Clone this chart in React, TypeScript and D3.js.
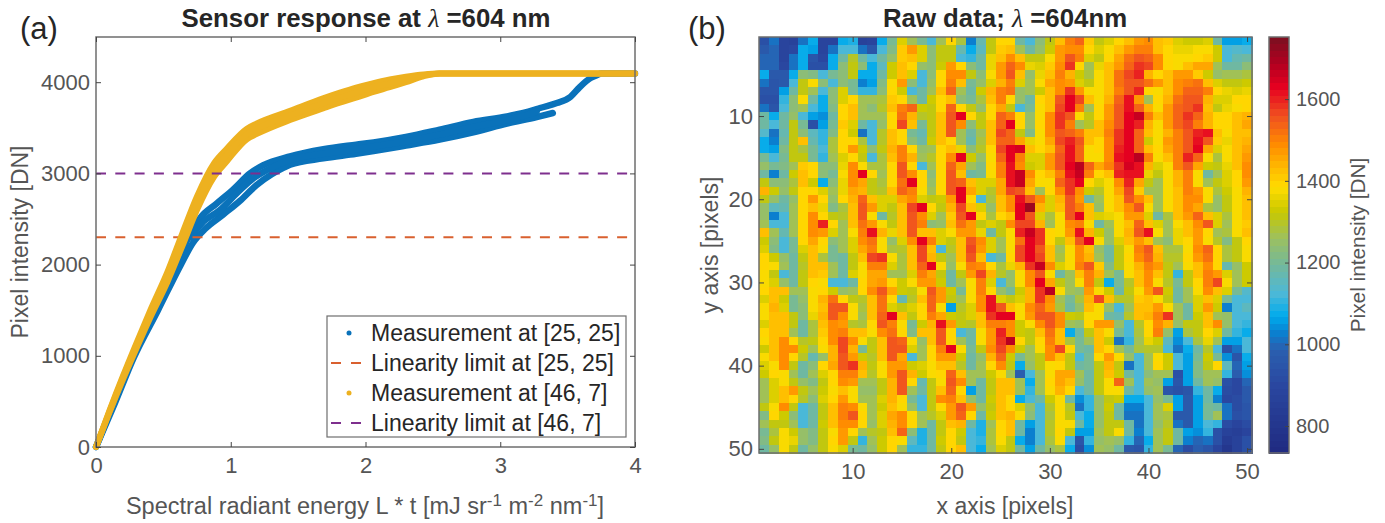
import React, { useRef, useEffect } from "react";
import * as d3 from "d3";

const blueUpperEnergy = [0, 0.14, 0.27, 0.44, 0.6, 0.7, 0.772, 0.896, 1.019, 1.143, 1.242, 1.44, 1.687, 1.93, 2.06, 2.3, 2.55, 2.8, 3.05, 3.24, 3.295, 3.42, 3.52, 3.59, 3.67, 3.72, 3.75, 4];
const blueUpperDn = [0, 510, 1000, 1500, 2000, 2340, 2510, 2670, 2825, 3000, 3090, 3187, 3265, 3315, 3340, 3400, 3480, 3565, 3625, 3690, 3717, 3772, 3838, 3947, 4046, 4079, 4095, 4095];
const blueMiddleEnergy = [0.7, 0.784, 0.92, 1.044, 1.167, 1.267, 1.44, 1.687, 1.93, 2.06, 2.3, 2.55, 2.8, 3.05, 3.24, 3.27];
const blueMiddleDn = [2300, 2452, 2599, 2781, 2946, 3037, 3147, 3215, 3265, 3295, 3350, 3425, 3509, 3585, 3662, 3680];
const blueLowerEnergy = [0, 0.14, 0.28, 0.46, 0.63, 0.72, 0.809, 0.945, 1.069, 1.19, 1.304, 1.39, 1.44, 1.687, 1.93, 2.06, 2.3, 2.55, 2.8, 3.05, 3.27, 3.39];
const blueLowerDn = [0, 480, 980, 1500, 2000, 2240, 2390, 2550, 2700, 2870, 2990, 3060, 3095, 3165, 3215, 3245, 3305, 3370, 3450, 3545, 3618, 3662];

// measurement runs at pixel [46, 7]
const yellowEnergy = [0, 0.1, 0.2, 0.3, 0.4, 0.53, 0.64, 0.75, 0.875, 0.97, 1.12, 1.19, 1.44, 1.69, 1.81, 1.93, 2.06, 2.18, 2.3, 2.43, 2.55, 3, 3.5, 4];
const yellowHighDn = [0, 400, 780, 1140, 1490, 1920, 2340, 2750, 3110, 3270, 3490, 3545, 3685, 3825, 3885, 3940, 3990, 4030, 4060, 4085, 4095, 4095, 4095, 4095];
const yellowMiddleDn = [0, 390, 760, 1110, 1450, 1864, 2270, 2675, 3037, 3202, 3430, 3487, 3635, 3770, 3830, 3885, 3945, 3985, 4030, 4075, 4095, 4095, 4095, 4095];
const yellowLowDn = [0, 380, 740, 1080, 1410, 1810, 2200, 2600, 2960, 3130, 3375, 3430, 3585, 3715, 3775, 3830, 3895, 3945, 4000, 4065, 4095, 4095, 4095, 4095];

const limitBlue = 2300;
const limitYellow = 3000;

const legendLabels = ["Measurement at [25, 25]", "Linearity limit at [25, 25]", "Measurement at [46, 7]", "Linearity limit at [46, 7]"];
const xTicksA = [0, 1, 2, 3, 4];
const yTicksA = [0, 1000, 2000, 3000, 4000];
const pixelTicks = [10, 20, 30, 40, 50];
const barTicks = [800, 1000, 1200, 1400, 1600];

// raw frame, one row per y pixel
const rawRows = [
  [930,1010,880,870,1020,1070,880,880,1080,1090,870,880,1070,1210,1340,1260,1200,1120,1260,1390,1290,1030,1170,1310,1390,1400,1190,1120,1230,1320,1430,1500,1540,1410,1320,1350,1390,1420,1470,1490,1430,1410,1340,1330,1330,1340,1190,1060,1060,1070],
  [960,1000,890,900,1070,1060,890,1010,1120,1120,1010,950,1120,1220,1410,1480,1340,1240,1320,1320,1170,1070,1160,1310,1410,1420,1260,1180,1250,1330,1480,1490,1490,1400,1340,1380,1420,1480,1500,1510,1430,1400,1370,1370,1385,1380,1330,1130,1140,1120],
  [1000,1000,880,1010,1070,950,900,1070,1180,1300,1190,1120,1180,1250,1410,1420,1340,1240,1320,1320,1130,1100,1180,1370,1420,1490,1420,1320,1310,1380,1480,1560,1500,1340,1320,1390,1460,1520,1550,1540,1490,1390,1385,1385,1400,1410,1330,1120,1170,1190],
  [1000,1000,900,1020,1070,940,940,1070,1240,1320,1240,1070,1150,1330,1420,1390,1250,1230,1330,1470,1390,1240,1190,1360,1480,1530,1490,1370,1340,1410,1490,1580,1390,1260,1370,1420,1480,1530,1590,1570,1490,1390,1385,1430,1450,1450,1270,1180,1190,1230],
  [1070,960,960,1070,1240,1220,1130,1200,1240,1310,1070,1070,1180,1330,1420,1340,1120,1240,1390,1490,1490,1320,1240,1385,1480,1560,1430,1250,1370,1430,1510,1440,1330,1280,1385,1420,1520,1570,1600,1440,1390,1420,1480,1480,1410,1330,1250,1260,1270,1280],
  [1020,950,960,1130,1320,1380,1230,1130,1240,1210,1030,1060,1220,1385,1470,1230,1130,1250,1390,1510,1420,1200,1250,1340,1440,1510,1340,1260,1380,1460,1490,1470,1340,1310,1385,1420,1520,1560,1550,1520,1470,1420,1490,1510,1520,1430,1340,1320,1320,1330],
  [950,950,1060,1190,1320,1260,1130,1230,1340,1200,1110,1110,1240,1400,1330,1120,1180,1270,1420,1530,1270,1180,1330,1440,1500,1520,1250,1260,1330,1420,1490,1580,1480,1385,1385,1420,1510,1560,1600,1390,1385,1430,1490,1530,1540,1510,1390,1360,1350,1360],
  [930,930,1100,1240,1385,1190,1070,1240,1340,1390,1270,1260,1280,1410,1390,1270,1190,1330,1400,1420,1240,1200,1290,1430,1500,1400,1250,1190,1390,1420,1560,1630,1570,1420,1385,1440,1540,1610,1480,1270,1390,1440,1520,1550,1550,1440,1340,1340,1400,1390],
  [1010,950,1130,1240,1260,1130,1070,1220,1400,1430,1270,1240,1300,1430,1500,1530,1330,1320,1400,1530,1390,1320,1250,1400,1450,1320,1120,1200,1380,1430,1570,1630,1510,1260,1390,1470,1550,1620,1530,1440,1385,1470,1530,1560,1590,1420,1320,1370,1385,1400],
  [1180,1070,1180,1250,1130,1060,1040,1190,1390,1420,1270,1260,1260,1390,1520,1440,1300,1320,1430,1560,1630,1390,1320,1400,1530,1510,1390,1250,1385,1490,1590,1560,1385,1310,1400,1480,1560,1630,1660,1510,1420,1470,1530,1580,1530,1440,1390,1400,1420,1440],
  [1190,1120,1180,1310,1200,940,1060,1200,1410,1340,1180,1130,1250,1400,1570,1420,1200,1320,1430,1560,1490,1240,1310,1430,1530,1630,1390,1250,1390,1490,1580,1500,1270,1300,1420,1490,1560,1640,1600,1440,1385,1470,1540,1570,1510,1440,1400,1390,1430,1450],
  [1140,1020,1170,1310,1230,1150,1110,1220,1400,1330,1010,1120,1300,1430,1390,1200,1170,1320,1430,1560,1260,1190,1270,1420,1570,1530,1310,1220,1385,1490,1550,1540,1500,1420,1430,1500,1580,1630,1540,1430,1385,1440,1500,1550,1600,1620,1430,1385,1420,1430],
  [1070,1030,1180,1310,1420,1170,1100,1290,1400,1400,1290,1130,1300,1430,1400,1230,1180,1330,1430,1400,1260,1170,1290,1430,1530,1530,1460,1370,1385,1450,1570,1600,1550,1420,1390,1490,1580,1640,1530,1330,1385,1480,1510,1560,1610,1550,1410,1370,1420,1440],
  [1070,1060,1220,1320,1290,1200,1130,1290,1390,1480,1330,1240,1320,1440,1500,1390,1250,1270,1390,1430,1370,1230,1300,1400,1570,1630,1650,1430,1400,1420,1540,1620,1530,1380,1400,1490,1600,1640,1540,1430,1390,1460,1500,1550,1630,1450,1340,1385,1430,1460],
  [1200,1120,1200,1310,1320,1200,1110,1270,1340,1400,1320,1120,1290,1430,1500,1440,1260,1300,1390,1490,1640,1330,1250,1385,1540,1640,1500,1340,1340,1480,1550,1620,1540,1385,1385,1490,1610,1640,1680,1500,1385,1420,1500,1600,1530,1385,1290,1385,1420,1470],
  [1250,1200,1220,1260,1410,1390,1240,1230,1360,1490,1385,1290,1280,1390,1560,1390,1120,1270,1390,1530,1460,1270,1220,1390,1500,1620,1490,1330,1340,1470,1550,1630,1680,1540,1460,1500,1580,1650,1620,1440,1340,1385,1500,1560,1460,1330,1310,1370,1420,1490],
  [1190,1030,1190,1330,1420,1390,1240,1210,1385,1490,1630,1390,1260,1400,1560,1490,1400,1240,1390,1550,1430,1190,1200,1380,1500,1620,1670,1490,1400,1430,1500,1620,1670,1500,1390,1420,1600,1620,1620,1370,1320,1385,1440,1510,1385,1190,1260,1340,1400,1490],
  [1320,1240,1240,1290,1420,1330,1070,1240,1360,1490,1450,1310,1290,1400,1520,1630,1400,1250,1390,1560,1540,1430,1340,1340,1460,1610,1660,1450,1385,1385,1540,1590,1630,1390,1340,1385,1490,1600,1450,1320,1260,1385,1440,1510,1385,1260,1320,1340,1400,1470],
  [1440,1330,1250,1310,1400,1400,1340,1270,1370,1460,1440,1310,1300,1420,1540,1500,1385,1260,1400,1560,1630,1460,1340,1300,1450,1570,1550,1420,1270,1390,1490,1580,1490,1330,1300,1385,1460,1570,1410,1270,1260,1385,1430,1510,1470,1385,1280,1330,1385,1440],
  [1310,1250,1190,1250,1390,1480,1390,1250,1390,1440,1540,1430,1340,1340,1450,1490,1340,1320,1330,1470,1630,1400,1130,1280,1430,1490,1620,1560,1490,1340,1440,1560,1480,1180,1260,1385,1430,1550,1490,1420,1260,1385,1430,1490,1490,1385,1250,1320,1385,1420],
  [1250,1150,1170,1260,1400,1420,1370,1220,1290,1420,1550,1480,1340,1320,1430,1570,1630,1400,1320,1440,1570,1430,1350,1250,1430,1490,1630,1720,1440,1340,1430,1560,1510,1420,1250,1385,1420,1490,1560,1385,1260,1385,1420,1490,1460,1290,1250,1310,1385,1420],
  [1250,1030,1130,1270,1400,1490,1400,1320,1300,1420,1550,1385,1190,1300,1430,1560,1490,1340,1260,1410,1560,1630,1400,1290,1400,1420,1630,1560,1340,1290,1385,1550,1630,1430,1340,1370,1380,1470,1470,1340,1190,1290,1420,1470,1530,1430,1340,1290,1385,1420],
  [1260,1130,1120,1260,1390,1490,1600,1390,1260,1420,1520,1480,1385,1320,1420,1560,1500,1240,1250,1420,1520,1480,1310,1340,1320,1490,1570,1570,1440,1270,1385,1490,1510,1385,1190,1260,1385,1430,1530,1430,1340,1260,1385,1430,1490,1560,1340,1270,1385,1410],
  [1430,1260,1170,1270,1390,1490,1470,1340,1260,1385,1510,1620,1440,1360,1420,1560,1430,1430,1340,1385,1480,1480,1370,1190,1320,1385,1600,1660,1590,1400,1385,1480,1620,1440,1330,1250,1385,1440,1550,1620,1385,1260,1360,1420,1480,1400,1260,1290,1385,1430],
  [1330,1240,1130,1200,1390,1450,1390,1240,1270,1340,1490,1520,1385,1250,1340,1490,1630,1500,1350,1320,1430,1560,1490,1340,1270,1385,1520,1630,1580,1390,1320,1430,1560,1630,1385,1250,1340,1430,1480,1430,1270,1240,1370,1400,1480,1385,1300,1220,1320,1390],
  [1340,1220,1120,1200,1340,1420,1385,1210,1270,1340,1450,1500,1385,1290,1300,1430,1570,1430,1130,1300,1430,1570,1480,1340,1270,1385,1570,1630,1560,1430,1270,1385,1490,1420,1250,1190,1320,1385,1500,1550,1420,1280,1280,1385,1490,1540,1400,1280,1320,1385],
  [1390,1330,1250,1190,1310,1420,1280,1200,1190,1320,1430,1570,1590,1385,1290,1430,1570,1440,1320,1260,1430,1560,1420,1120,1190,1390,1570,1630,1570,1430,1280,1385,1490,1440,1270,1190,1320,1390,1490,1530,1440,1300,1300,1390,1470,1520,1390,1290,1320,1385],
  [1390,1385,1260,1190,1300,1420,1430,1260,1180,1320,1385,1510,1500,1340,1290,1430,1530,1630,1385,1250,1385,1510,1490,1390,1280,1370,1440,1590,1660,1490,1340,1385,1500,1550,1410,1220,1320,1385,1440,1500,1480,1310,1270,1385,1430,1490,1390,1170,1250,1330],
  [1385,1320,1130,1190,1310,1420,1410,1260,1190,1340,1385,1450,1450,1270,1270,1340,1500,1450,1310,1190,1320,1480,1570,1440,1300,1250,1385,1490,1550,1385,1190,1270,1430,1510,1440,1260,1210,1385,1420,1490,1420,1320,1110,1320,1430,1510,1470,1340,1260,1330],
  [1385,1340,1250,1190,1320,1390,1385,1130,1120,1190,1390,1460,1480,1400,1330,1385,1470,1470,1330,1190,1270,1385,1500,1350,1120,1250,1385,1490,1630,1450,1320,1260,1385,1510,1320,1070,1200,1300,1430,1490,1385,1300,1210,1320,1400,1510,1570,1385,1270,1330],
  [1390,1420,1430,1260,1260,1385,1390,1330,1250,1260,1390,1490,1560,1460,1330,1310,1385,1550,1480,1330,1200,1385,1500,1400,1250,1200,1330,1440,1580,1680,1385,1260,1250,1480,1385,1330,1190,1310,1385,1480,1550,1330,1190,1260,1385,1490,1430,1340,1200,1140],
  [1340,1420,1330,1200,1250,1385,1440,1520,1400,1320,1300,1420,1520,1390,1170,1300,1430,1540,1470,1320,1270,1385,1490,1610,1350,1310,1350,1440,1590,1490,1270,1200,1290,1440,1570,1430,1300,1300,1410,1430,1385,1310,1180,1260,1350,1430,1340,1200,1130,1120],
  [1385,1440,1340,1200,1240,1385,1430,1560,1560,1385,1280,1420,1520,1340,1320,1340,1400,1530,1385,1060,1300,1340,1490,1620,1560,1430,1385,1490,1530,1470,1280,1190,1250,1430,1385,1250,1120,1260,1420,1430,1470,1385,1260,1190,1340,1470,1330,1030,1120,1150],
  [1385,1430,1430,1320,1240,1370,1440,1550,1490,1385,1260,1430,1530,1630,1420,1320,1400,1510,1450,1330,1310,1340,1430,1580,1630,1640,1385,1480,1560,1550,1490,1330,1310,1385,1385,1190,1170,1300,1420,1440,1500,1590,1270,1190,1330,1420,1270,1250,1120,1120],
  [1340,1430,1430,1320,1190,1290,1430,1490,1480,1300,1290,1390,1550,1500,1385,1210,1330,1440,1610,1470,1320,1300,1420,1500,1500,1490,1330,1385,1490,1560,1490,1270,1250,1400,1470,1480,1250,1120,1300,1390,1490,1440,1250,1310,1320,1430,1490,1250,1120,1100],
  [1390,1420,1420,1260,1190,1280,1410,1490,1500,1420,1430,1385,1490,1520,1390,1220,1430,1430,1560,1390,1120,1190,1385,1480,1600,1490,1330,1320,1430,1520,1430,1070,1190,1310,1420,1385,1200,1120,1290,1390,1500,1250,1060,1280,1310,1390,1340,1190,1110,1080],
  [1385,1420,1490,1390,1300,1320,1390,1490,1570,1490,1385,1320,1430,1560,1540,1385,1250,1430,1550,1390,1260,1190,1385,1470,1590,1680,1390,1310,1400,1500,1430,1290,1200,1260,1420,1330,1010,1100,1260,1370,1330,1150,1050,1120,1280,1370,1260,1060,1060,1120],
  [1330,1420,1490,1490,1330,1260,1385,1440,1570,1440,1200,1310,1430,1560,1560,1350,1270,1390,1500,1630,1385,1200,1320,1490,1570,1490,1330,1260,1385,1490,1570,1390,1200,1190,1420,1390,1260,1200,1280,1300,1300,1130,1010,1070,1190,1300,1130,930,1010,1120],
  [1385,1420,1490,1400,1300,1170,1250,1440,1560,1480,1330,1300,1420,1550,1460,1120,1260,1390,1480,1480,1330,1190,1250,1440,1540,1330,1200,1260,1310,1490,1420,1310,1120,1200,1390,1480,1385,1250,1120,1260,1385,1330,1120,1060,1200,1330,1200,1050,950,1070],
  [1350,1385,1490,1310,1190,1240,1390,1460,1550,1590,1440,1320,1385,1470,1470,1330,1340,1385,1430,1430,1300,1190,1260,1400,1490,1310,1070,1250,1310,1385,1390,1320,1190,1200,1320,1440,1310,1020,1130,1260,1390,1330,1120,1060,1220,1310,1390,1150,1000,1060],
  [1330,1390,1385,1270,1190,1260,1340,1400,1500,1500,1430,1300,1385,1480,1560,1440,1330,1385,1400,1540,1430,1260,1270,1330,1385,1270,980,1120,1260,1385,1460,1450,1260,1190,1310,1420,1330,1190,1120,1240,1270,1260,940,1060,1220,1260,1260,1100,980,1050],
  [1260,1340,1385,1320,1250,1220,1320,1390,1490,1480,1260,1260,1320,1440,1560,1390,1170,1320,1385,1550,1490,1260,1190,1320,1430,1430,1260,1070,1260,1390,1460,1430,1250,1190,1310,1385,1540,1270,1120,1260,1250,1060,950,1060,1190,1260,1250,930,900,1000],
  [1260,1350,1430,1480,1320,1260,1330,1385,1420,1385,1250,1250,1320,1440,1550,1260,1180,1320,1430,1540,1390,1060,1190,1320,1430,1430,1260,1100,1260,1385,1440,1390,1120,1180,1320,1385,1385,1180,1120,1250,1260,950,930,950,1110,1190,1070,910,900,960],
  [1260,1340,1430,1390,1300,1240,1340,1390,1480,1385,1260,1260,1340,1440,1400,1200,1130,1320,1490,1500,1430,1250,1190,1330,1430,1400,1070,1120,1190,1330,1385,1190,1050,1100,1250,1320,1330,1070,1070,1130,1250,1200,1060,960,1060,1190,1030,900,910,960],
  [1320,1385,1490,1310,1130,1190,1320,1430,1500,1490,1385,1260,1330,1430,1385,1250,1130,1310,1390,1480,1550,1480,1250,1320,1430,1400,1340,1250,1130,1300,1385,1300,1010,1110,1250,1330,1190,1030,1030,1130,1260,1340,1060,960,1060,1200,1190,1020,920,950],
  [1220,1390,1330,1240,1120,1190,1320,1430,1510,1560,1390,1260,1340,1450,1490,1385,1270,1300,1340,1470,1530,1390,1190,1330,1430,1440,1385,1240,1130,1290,1385,1320,1130,1080,1250,1320,1190,1010,1010,1120,1260,1290,960,970,1060,1200,1260,1010,930,950],
  [1260,1310,1320,1260,1120,1190,1330,1430,1490,1490,1390,1250,1340,1440,1490,1390,1260,1190,1320,1420,1440,1190,1090,1270,1390,1430,1190,1060,1130,1300,1385,1385,1190,1070,1250,1310,1320,1190,1020,1120,1250,1300,1020,960,1060,1120,1100,920,890,910],
  [1200,1290,1385,1330,1250,1220,1320,1385,1480,1400,1270,1300,1320,1420,1530,1240,1090,1190,1320,1400,1330,1120,1090,1290,1400,1420,1180,1030,1120,1300,1390,1320,1060,1060,1260,1320,1385,1190,1030,1120,1260,1320,1190,1060,1050,1100,940,870,860,890],
  [1220,1320,1385,1370,1250,1220,1320,1400,1480,1320,1110,1260,1330,1400,1385,1150,1090,1190,1330,1400,1310,1120,1100,1290,1385,1320,1070,1030,1120,1290,1385,1120,950,1100,1250,1260,1250,1100,990,1080,1260,1310,1190,1030,990,1020,930,830,870,930],
  [1190,1250,1385,1320,1190,1250,1320,1385,1340,1200,1180,1250,1330,1390,1260,1110,1100,1180,1320,1390,1420,1120,1070,1260,1340,1320,1190,1060,1190,1250,1290,1070,920,1040,1260,1250,1190,960,950,1110,1260,1200,1000,910,980,950,880,800,870,930],
];

const colorDomain = [734, 900, 990, 1030, 1070, 1125, 1190, 1260, 1325, 1385, 1425, 1490, 1560, 1630, 1690, 1752];
const colorStops = ["#1f2a80", "#2a47a0", "#2a60b0", "#0a80d0", "#00aaec", "#4cb8d8", "#70b8a0", "#9cc060", "#c8c800", "#ffdc00", "#ffc000", "#ff8c00", "#f05020", "#e60020", "#b00020", "#7a1020"];

const grey = "#555555";
const spine = "#6e6e6e";
const fontFamily = "'Liberation Sans', Arial, sans-serif";

export default function App() {
  const svgRef = useRef<SVGSVGElement>(null);

  useEffect(() => {
    const svg = d3.select(svgRef.current);
    svg.selectAll("*").remove();
    svg.style("font-family", fontFamily);

    const drawBox = (left: number, right: number, top: number, bottom: number) => {
      svg.append("rect").attr("x", left).attr("y", top).attr("width", right - left).attr("height", bottom - top)
        .attr("fill", "none").attr("stroke", spine).attr("stroke-width", 1.5);
    };

    const styleAxis = (g: any, size = 22) => {
      g.select(".domain").remove();
      g.selectAll("line").attr("stroke", "#444").attr("stroke-width", 1);
      g.selectAll("text").attr("fill", grey).style("font-size", `${size}px`).style("font-family", fontFamily);
    };

    // panel (a)
    const x = d3.scaleLinear().domain([0, 4]).range([96, 635]);
    const y = d3.scaleLinear().domain([0, 4500]).range([447, 36.6]);
    const line = d3.line<[number, number]>().x((d) => x(d[0])).y((d) => y(d[1])).curve(d3.curveMonotoneX);

    const drawRun = (energy: number[], dn: number[], color: string, width = 6) => {
      const pts = energy.map((e, i) => [e, dn[i]] as [number, number]);
      svg.append("path").attr("d", line(pts)).attr("fill", "none").attr("stroke", color)
        .attr("stroke-width", width).attr("stroke-linejoin", "round").attr("stroke-linecap", "round");
    };

    const drawLimit = (value: number, color: string) => {
      svg.append("line").attr("x1", x(0)).attr("x2", x(4)).attr("y1", y(value)).attr("y2", y(value))
        .attr("stroke", color).attr("stroke-width", 2).attr("stroke-dasharray", "10,9.3");
    };

    drawRun(blueUpperEnergy, blueUpperDn, "#0a72ba", 6.5);
    drawRun(blueLowerEnergy, blueLowerDn, "#0a72ba", 6.5);
    drawRun(blueMiddleEnergy, blueMiddleDn, "#0a72ba", 6.5);
    drawLimit(limitBlue, "#d9602f");
    drawRun(yellowEnergy, yellowLowDn, "#edb120");
    drawRun(yellowEnergy, yellowHighDn, "#edb120");
    drawRun(yellowEnergy, yellowMiddleDn, "#edb120");
    drawLimit(limitYellow, "#7e2f8e");

    drawBox(96, 635, 37, 447);
    svg.append("g").attr("transform", "translate(0,447)")
      .call(d3.axisBottom(x).tickValues(xTicksA).tickFormat(d3.format("d")).tickSizeInner(-5).tickSizeOuter(0).tickPadding(10) as any).call(styleAxis);
    svg.append("g").attr("transform", "translate(0,37)")
      .call(d3.axisTop(x).tickValues(xTicksA).tickFormat(() => "").tickSizeInner(-5).tickSizeOuter(0) as any).call(styleAxis);
    svg.append("g").attr("transform", "translate(96,0)")
      .call(d3.axisLeft(y).tickValues(yTicksA).tickFormat(d3.format("d")).tickSizeInner(-5).tickSizeOuter(0).tickPadding(6) as any).call(styleAxis);
    svg.append("g").attr("transform", "translate(635,0)")
      .call(d3.axisRight(y).tickValues(yTicksA).tickFormat(() => "").tickSizeInner(-5).tickSizeOuter(0) as any).call(styleAxis);

    const label = (px: number, py: number, text: string, size = 23, fill = grey, anchor = "middle", rotate = false) => {
      const t = svg.append("text").attr("text-anchor", anchor).attr("fill", fill).style("font-size", `${size}px`);
      if (rotate) t.attr("transform", `translate(${px},${py}) rotate(-90)`);
      else t.attr("x", px).attr("y", py);
      t.text(text);
      return t;
    };

    const title = (cx: number, before: string, after: string) => {
      const t = svg.append("text").attr("x", cx).attr("y", 27).attr("text-anchor", "middle").attr("fill", "#262626")
        .style("font-size", "25.8px").style("font-weight", "bold");
      t.append("tspan").text(before);
      t.append("tspan").text("λ").style("font-family", "'Liberation Serif', serif").style("font-style", "italic").style("font-weight", "normal");
      t.append("tspan").text(after);
    };

    title(366, "Sensor response at ", " =604 nm");
    label(20, 39, "(a)", 31, "#262626", "start");
    label(28, 242, "Pixel intensity [DN]", 23, grey, "middle", true);

    const xLabel = svg.append("text").attr("x", 365).attr("y", 514).attr("text-anchor", "middle").attr("fill", grey).style("font-size", "23.5px");
    xLabel.append("tspan").text("Spectral radiant energy L * t [mJ sr");
    xLabel.append("tspan").attr("dy", -8).style("font-size", "17px").text("-1");
    xLabel.append("tspan").attr("dy", 8).text(" m");
    xLabel.append("tspan").attr("dy", -8).style("font-size", "17px").text("-2");
    xLabel.append("tspan").attr("dy", 8).text(" nm");
    xLabel.append("tspan").attr("dy", -8).style("font-size", "17px").text("-1");
    xLabel.append("tspan").attr("dy", 8).text("]");

    // legend
    const legendY = d3.scalePoint<string>().domain(legendLabels).range([333, 423]);
    svg.append("rect").attr("x", 327).attr("y", 316).attr("width", 299).attr("height", 121)
      .attr("fill", "#fff").attr("stroke", spine).attr("stroke-width", 1.2);
    legendLabels.forEach((name, i) => {
      const ly = legendY(name) as number;
      if (i % 2 === 0) {
        svg.append("circle").attr("cx", 349).attr("cy", ly).attr("r", 2.5).attr("fill", i === 0 ? "#0a72ba" : "#edb120");
      } else {
        svg.append("line").attr("x1", 331).attr("x2", 361).attr("y1", ly).attr("y2", ly)
          .attr("stroke", i === 1 ? "#d9602f" : "#7e2f8e").attr("stroke-width", 2).attr("stroke-dasharray", "10,10");
      }
      label(371, ly + 8, name, 23, "#262626", "start");
    });

    // panel (b)
    const stopScale = d3.scaleLinear<string>().domain(colorDomain).range(colorStops).interpolate(d3.interpolateRgb).clamp(true);
    const levels = d3.range(64).map((i) => stopScale(734 + ((i + 0.5) * (1752 - 734)) / 64));
    const color = d3.scaleQuantize<string>().domain([734, 1752]).range(levels);

    const px = d3.scaleLinear().domain([0.5, 50.5]).range([759, 1252]);
    const py = d3.scaleLinear().domain([0.5, 50.5]).range([37, 453]);
    const cells = svg.append("g").attr("shape-rendering", "crispEdges");
    rawRows.forEach((row, r) => {
      cells.append("g").selectAll("rect").data(row).join("rect")
        .attr("x", (_, c) => px(c + 0.5))
        .attr("y", py(r + 0.5))
        .attr("width", px(1.5) - px(0.5) + 0.5)
        .attr("height", py(1.5) - py(0.5) + 0.5)
        .attr("fill", (v) => color(v));
    });

    drawBox(759, 1252, 37, 453);
    svg.append("g").attr("transform", "translate(0,453)")
      .call(d3.axisBottom(px).tickValues(pixelTicks).tickFormat(d3.format("d")).tickSizeInner(-5).tickSizeOuter(0).tickPadding(10) as any).call(styleAxis);
    svg.append("g").attr("transform", "translate(0,37)")
      .call(d3.axisTop(px).tickValues(pixelTicks).tickFormat(() => "").tickSizeInner(-5).tickSizeOuter(0) as any).call(styleAxis);
    svg.append("g").attr("transform", "translate(759,0)")
      .call(d3.axisLeft(py).tickValues(pixelTicks).tickFormat(d3.format("d")).tickSizeInner(-5).tickSizeOuter(0).tickPadding(6) as any).call(styleAxis);
    svg.append("g").attr("transform", "translate(1252,0)")
      .call(d3.axisRight(py).tickValues(pixelTicks).tickFormat(() => "").tickSizeInner(-5).tickSizeOuter(0) as any).call(styleAxis);

    title(1005, "Raw data; ", " =604nm");
    label(688, 39, "(b)", 31, "#262626", "start");
    label(1005, 514, "x axis [pixels]");
    label(718, 245, "y axis [pixels]", 23, grey, "middle", true);

    // colour bar
    const barY = d3.scaleLinear().domain([734, 1752]).range([453, 37]);
    const bar = svg.append("g").attr("shape-rendering", "crispEdges");
    bar.selectAll("rect").data(levels).join("rect")
      .attr("x", 1269).attr("width", 20)
      .attr("y", (_, i) => barY(734 + ((i + 1) * (1752 - 734)) / 64))
      .attr("height", (453 - 37) / 64 + 0.5)
      .attr("fill", (d) => d);
    drawBox(1269, 1289, 37, 453);
    svg.append("g").attr("transform", "translate(1289,0)")
      .call(d3.axisRight(barY).tickValues(barTicks).tickFormat(d3.format("d")).tickSizeInner(-4).tickSizeOuter(0).tickPadding(7) as any).call((g: any) => styleAxis(g, 20));
    label(1365, 245, "Pixel intensity [DN]", 20.8, grey, "middle", true);
  }, []);

  return <svg ref={svgRef} width={1385} height={523} style={{ position: "absolute", left: 0, top: 0, background: "#fff" }} />;
}
